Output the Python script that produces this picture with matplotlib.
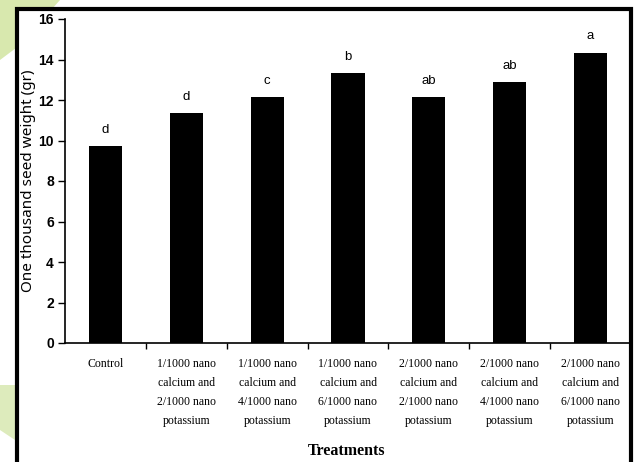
import matplotlib
matplotlib.use("Agg")
import matplotlib.pyplot as plt
import numpy as np
from matplotlib.patches import Rectangle, Polygon

treatments = [
    "Control",
    "1/1000 nano\ncalcium and\n2/1000 nano\npotassium",
    "1/1000 nano\ncalcium and\n4/1000 nano\npotassium",
    "1/1000 nano\ncalcium and\n6/1000 nano\npotassium",
    "2/1000 nano\ncalcium and\n2/1000 nano\npotassium",
    "2/1000 nano\ncalcium and\n4/1000 nano\npotassium",
    "2/1000 nano\ncalcium and\n6/1000 nano\npotassium",
]
seed_weight = [9.74, 11.37, 12.13, 13.32, 12.16, 12.87, 14.34]
letters = ["d", "d", "c", "b", "ab", "ab", "a"]
yticks = [0, 2, 4, 6, 8, 10, 12, 14, 16]

narrow = ["Liberation Sans Narrow", "Liberation Sans", "DejaVu Sans"]
serif = ["Liberation Serif", "DejaVu Serif"]

fig = plt.figure(figsize=(6.37, 4.62), dpi=100)
W, H = 637.0, 462.0

# faint decoration behind the frame
fig.patches.append(Polygon([(0, 1), (60 / W, 1), (20 / W, 1 - 45 / H), (0, 1 - 60 / H)],
                           closed=True, transform=fig.transFigure, facecolor="#c8df8c",
                           edgecolor="none", alpha=0.7, zorder=0))
fig.patches.append(Polygon([(0, 1 - 385 / H), (15 / W, 1 - 385 / H), (15 / W, 1 - 440 / H), (0, 1 - 430 / H)],
                           closed=True, transform=fig.transFigure, facecolor="#cfe3a0",
                           edgecolor="none", alpha=0.7, zorder=0))

# black frame round the chart
fig.patches.append(Rectangle((17 / W, -0.05), (631 - 17) / W, (1 - 9 / H) + 0.05,
                             transform=fig.transFigure, facecolor="white",
                             edgecolor="black", linewidth=3.0, zorder=1))

ax = fig.add_axes([65 / W, 1 - 343 / H, (631 - 65) / W, (343 - 19) / H])
ax.set_zorder(2)
ax.patch.set_alpha(0)

x = np.arange(len(treatments))
ax.bar(x, seed_weight, width=0.41, color="black")

for xi, v, lab in zip(x, seed_weight, letters):
    ax.text(xi, v + 0.8, lab, ha="center", va="center", fontsize=9.5, family=narrow)

ax.set_xlim(-0.5, len(treatments) - 0.5)
ax.set_ylim(0, 16)
ax.set_yticks(yticks)
ax.set_yticklabels([str(t) for t in yticks], fontsize=10, fontweight="bold", family=narrow)
ax.tick_params(axis="y", direction="out", length=5, width=1, pad=3)

ax.set_xticks(x)
ax.set_xticklabels(treatments, fontsize=8.5, family=serif, linespacing=1.75)
ax.set_xticks(np.arange(len(treatments)) + 0.5, minor=True)
ax.tick_params(axis="x", which="major", length=0, pad=11)
ax.tick_params(axis="x", which="minor", direction="out", length=4, width=1)

for s in ["top", "right"]:
    ax.spines[s].set_visible(False)
ax.spines["left"].set_linewidth(1.2)
ax.spines["bottom"].set_linewidth(1.2)

ax.set_ylabel("One thousand seed weight (gr)", fontsize=11, family=["Noto Sans", "DejaVu Sans"])
ax.yaxis.set_label_coords(-0.052, 0.5)
fig.text(347 / W, 1 - 451 / H, "Treatments", ha="center", va="center",
         fontsize=11.5, fontweight="bold", family=serif)

fig.savefig("out.png", dpi=100)
